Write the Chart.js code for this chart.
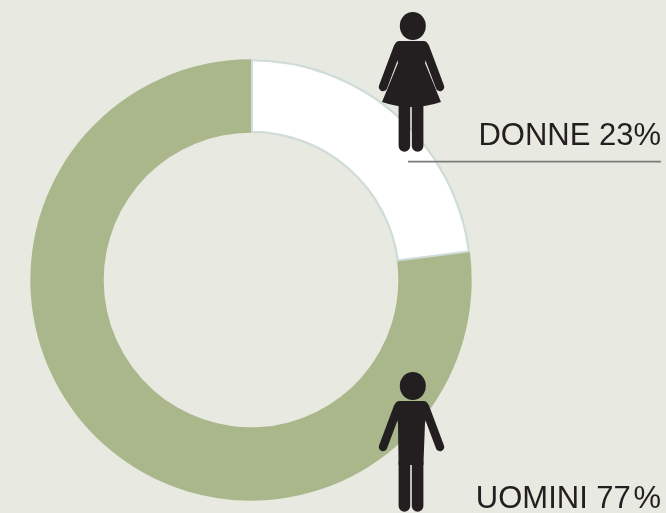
<!DOCTYPE html>
<html>
<head>
<meta charset="utf-8">
<script src="https://cdn.jsdelivr.net/npm/chart.js@4"></script>
<style>
  html, body { margin: 0; padding: 0; background: #e8e9e0; }
  canvas { display: block; }
</style>
</head>
<body>
<canvas id="genderChart" width="666" height="513"></canvas>
<script>
var categories = ['DONNE', 'UOMINI'];
var shares = [23, 77];

var ink = '#231f20';

// pictogram, x0 is the middle of the figure and top the top of the head
function drawPerson(ctx, x0, top, hasDress) {
  ctx.save();
  ctx.fillStyle = ink;
  ctx.strokeStyle = ink;

  ctx.beginPath();
  ctx.ellipse(x0 + 1.8, top + 14, 13, 14, 0, 0, Math.PI * 2);
  ctx.fill();

  // arms
  ctx.lineWidth = 8.5;
  ctx.lineCap = 'round';
  ctx.beginPath();
  ctx.moveTo(x0 - 13, top + 35);
  ctx.lineTo(x0 - 28, top + 75);
  ctx.moveTo(x0 + 14, top + 35);
  ctx.lineTo(x0 + 29, top + 75);
  ctx.stroke();

  // shoulders and body
  ctx.beginPath();
  ctx.moveTo(x0 - 12, top + 29);
  ctx.lineTo(x0 + 13, top + 29);
  ctx.quadraticCurveTo(x0 + 17, top + 29, x0 + 18, top + 36);
  ctx.lineTo(x0 + 14, top + 51);
  if (hasDress) {
    ctx.lineTo(x0 + 30, top + 90);
    ctx.quadraticCurveTo(x0, top + 100, x0 - 29, top + 90);
  } else {
    ctx.lineTo(x0 + 12.4, top + 93);
    ctx.lineTo(x0 - 12.4, top + 93);
  }
  ctx.lineTo(x0 - 13, top + 51);
  ctx.lineTo(x0 - 17, top + 36);
  ctx.quadraticCurveTo(x0 - 16, top + 29, x0 - 12, top + 29);
  ctx.closePath();
  ctx.fill();

  // legs
  ctx.lineWidth = 11.6;
  ctx.lineCap = 'round';
  ctx.beginPath();
  ctx.moveTo(x0 - 6.6, top + 90);
  ctx.lineTo(x0 - 6.6, top + 134);
  ctx.moveTo(x0 + 6.6, top + 90);
  ctx.lineTo(x0 + 6.6, top + 134);
  ctx.stroke();
  ctx.restore();
}

var annotations = {
  id: 'annotations',
  afterDraw: function(chart) {
    var ctx = chart.ctx;
    var ds = chart.data.datasets[0];

    drawPerson(ctx, 411, 12, true);
    drawPerson(ctx, 411, 372, false);

    ctx.save();
    ctx.strokeStyle = '#7c7c7a';
    ctx.lineWidth = 1.7;
    ctx.beginPath();
    ctx.moveTo(408, 161.7);
    ctx.lineTo(661, 161.7);
    ctx.stroke();

    ctx.fillStyle = ink;
    ctx.font = '31px "Liberation Sans"';
    ctx.textAlign = 'right';
    ctx.textBaseline = 'alphabetic';
    ctx.fillText(chart.data.labels[0] + ' ' + ds.data[0] + '%', 661, 145);
    ctx.fillText(chart.data.labels[1] + ' ' + ds.data[1] + '\u200a%', 661, 508);
    ctx.restore();
  }
};

new Chart('genderChart', {
  type: 'doughnut',
  data: {
    labels: categories,
    datasets: [{
      data: shares,
      backgroundColor: ['#ffffff', '#a9b78a'],
      borderColor: ['#cfdcd8', '#a9b78a'],
      borderWidth: [2, 0],
      borderAlign: 'inner'
    }]
  },
  options: {
    responsive: false,
    animation: false,
    cutout: '66.5%',
    layout: { padding: { left: 30, right: 194, top: 59, bottom: 12 } },
    plugins: {
      legend: { display: false },
      tooltip: { enabled: false }
    }
  },
  plugins: [annotations]
});
</script>
</body>
</html>
